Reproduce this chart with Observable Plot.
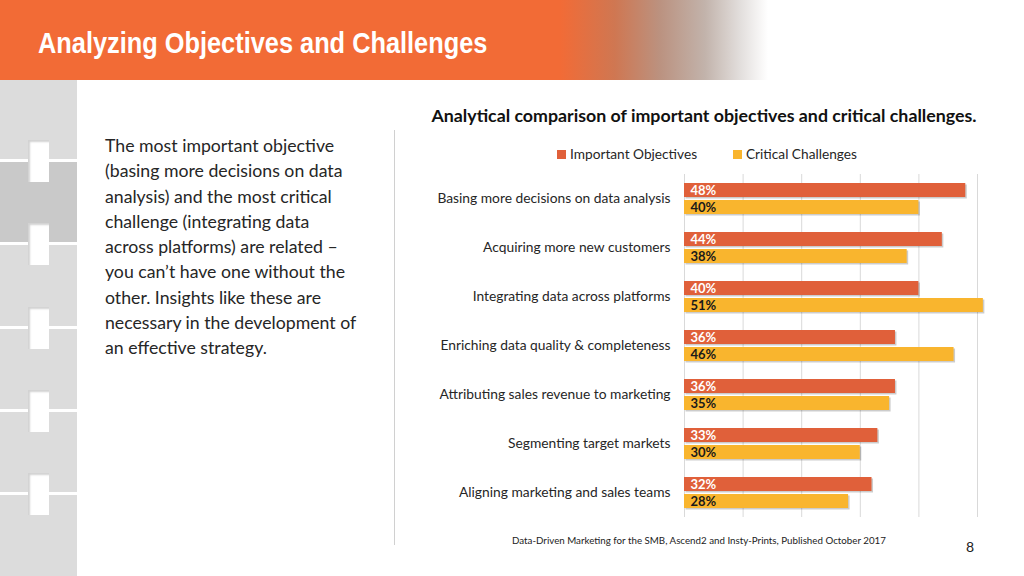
<!DOCTYPE html>
<html>
<head>
<meta charset="utf-8">
<script src="https://cdn.jsdelivr.net/npm/d3@7"></script>
<script src="https://cdn.jsdelivr.net/npm/@observablehq/plot@0.6"></script>
<style>
  html, body { margin: 0; padding: 0; background: #fff; }
  body { width: 1024px; height: 576px; position: relative; overflow: hidden; font-family: Lato, "Open Sans", sans-serif; }
  .abs { position: absolute; }
  #header { left: 0; top: 0; width: 1024px; height: 80px;
    background: linear-gradient(to right, #F26B36 0px, #F26B36 560px, #cf7752 615px, #bb9280 660px, #c2b3ab 705px, #e2dedc 740px, #ffffff 768px); }
  #header h1 { position: absolute; left: 38px; top: 28px; margin: 0; color: #fff; font-family: "Liberation Sans", Arial, sans-serif; font-weight: bold; font-size: 30px; line-height: 30px; white-space: nowrap; transform: scaleX(0.845); transform-origin: 0 0; }
  .block { position: absolute; left: 0; width: 77px; background: #dcdcdc; }
  .sep { position: absolute; left: 0; width: 77px; height: 3px; background: #fff; }
  .notch { position: absolute; left: 28px; width: 21px; height: 42px; background: #fff; box-shadow: inset 2px 2px 2px rgba(0,0,0,0.18); }
  #para { left: 105px; top: 133px; font-size: 17.7px; line-height: 25.3px; color: #262626; white-space: nowrap; }
  #divider { left: 394px; top: 130px; width: 1px; height: 415px; background: #d0d0d0; }
  #ctitle { left: 400px; top: 104px; width: 608px; text-align: center; font-weight: bold; font-size: 17.8px; color: #111; white-space: nowrap; }
  .leg { top: 145px; font-size: 13.7px; color: #262626; white-space: nowrap; }
  .sw { display: inline-block; width: 9px; height: 9px; margin-right: 4px; vertical-align: 0px; }
  #source { left: 512px; top: 534px; font-size: 9.75px; color: #222; white-space: nowrap; }
  #page { left: 966px; top: 538px; font-size: 14px; color: #222; }
  #chart { left: 400px; top: 165px; }
</style>
</head>
<body>
<div id="header" class="abs"><h1>Analyzing Objectives and Challenges</h1></div>
<div id="strip"></div>
<div id="para" class="abs">The most important objective<br>(basing more decisions on data<br>analysis) and the most critical<br>challenge (integrating data<br>across platforms) are related –<br>you can’t have one without the<br>other. Insights like these are<br>necessary in the development of<br>an effective strategy.</div>
<div id="divider" class="abs"></div>
<div id="ctitle" class="abs">Analytical comparison of important objectives and critical challenges.</div>
<div id="legend"></div>
<div id="chart" class="abs"></div>
<div id="source" class="abs">Data-Driven Marketing for the SMB, Ascend2 and Insty-Prints, Published October 2017</div>
<div id="page" class="abs">8</div>
<script>
// ---- data ----
const categories = [
  "Basing more decisions on data analysis",
  "Acquiring more new customers",
  "Integrating data across platforms",
  "Enriching data quality & completeness",
  "Attributing sales revenue to marketing",
  "Segmenting target markets",
  "Aligning marketing and sales teams"
];
const seriesNames = ["Important Objectives", "Critical Challenges"];
const objectives = [48, 44, 40, 36, 36, 33, 32];
const challenges = [40, 38, 51, 46, 35, 30, 28];
const xTicks = [0, 10, 20, 30, 40, 50];
const seriesColors = ["#E0603A", "#F9B52E"];

// ---- decorative strip ----
const strip = document.getElementById("strip");
const blocks = [[80, 160, "#dcdcdc"], [160, 243, "#c9c9c9"], [243, 327, "#dcdcdc"], [327, 410, "#dcdcdc"], [410, 493, "#dcdcdc"], [493, 576, "#dcdcdc"]];
blocks.forEach(([a, b, c]) => {
  const d = document.createElement("div"); d.className = "block";
  d.style.top = a + "px"; d.style.height = (b - a) + "px"; d.style.background = c; strip.appendChild(d);
});
[160, 243, 327, 410, 493].forEach(y => {
  const s = document.createElement("div"); s.className = "sep"; s.style.top = (y - 1) + "px"; strip.appendChild(s);
  const n = document.createElement("div"); n.className = "notch"; n.style.top = (y - 20) + "px"; strip.appendChild(n);
});

// ---- legend ----
const legend = document.getElementById("legend");
[[557, 0], [733, 1]].forEach(([x, i]) => {
  const d = document.createElement("div"); d.className = "abs leg"; d.style.left = x + "px";
  d.innerHTML = `<span class="sw" style="background:${seriesColors[i]}"></span>${seriesNames[i]}`;
  legend.appendChild(d);
});

// ---- chart ----
const data = categories.flatMap((c, i) => [
  {category: c, series: seriesNames[0], value: objectives[i]},
  {category: c, series: seriesNames[1], value: challenges[i]}
]);

const chart = Plot.plot({
  width: 610, height: 365,
  marginLeft: 284, marginRight: 33, marginTop: 8, marginBottom: 12,
  style: {fontFamily: "Lato, 'Open Sans', sans-serif", background: "transparent", overflow: "visible"},
  x: {domain: [0, 50], axis: null},
  y: {domain: seriesNames, axis: null, paddingInner: 0.17, paddingOuter: 0.49},
  fy: {domain: categories, padding: 0},
  color: {domain: seriesNames, range: seriesColors},
  marks: [
    Plot.gridX(xTicks, {stroke: "#d9d9d9", strokeOpacity: 1}),
    Plot.axisFy({anchor: "left", tickSize: 0, tickPadding: 14, fontSize: 13.8, label: null, fill: "#262626"}),
    Plot.barX(data, {x: "value", y: "series", fy: "category", fill: "#000", fillOpacity: 0.2, dx: 1.5, dy: 1.5}),
    Plot.barX(data, {x: "value", y: "series", fy: "category", fill: "series"}),
    Plot.text(data.filter(d => d.series === seriesNames[0]), {x: 0, y: "series", fy: "category", text: d => d.value + "%", dx: 6, textAnchor: "start", fill: "#fff", fontWeight: "bold", fontSize: 13}),
    Plot.text(data.filter(d => d.series === seriesNames[1]), {x: 0, y: "series", fy: "category", text: d => d.value + "%", dx: 6, textAnchor: "start", fill: "#1a1a1a", fontWeight: "bold", fontSize: 13})
  ]
});
document.getElementById("chart").appendChild(chart);
</script>
</body>
</html>
